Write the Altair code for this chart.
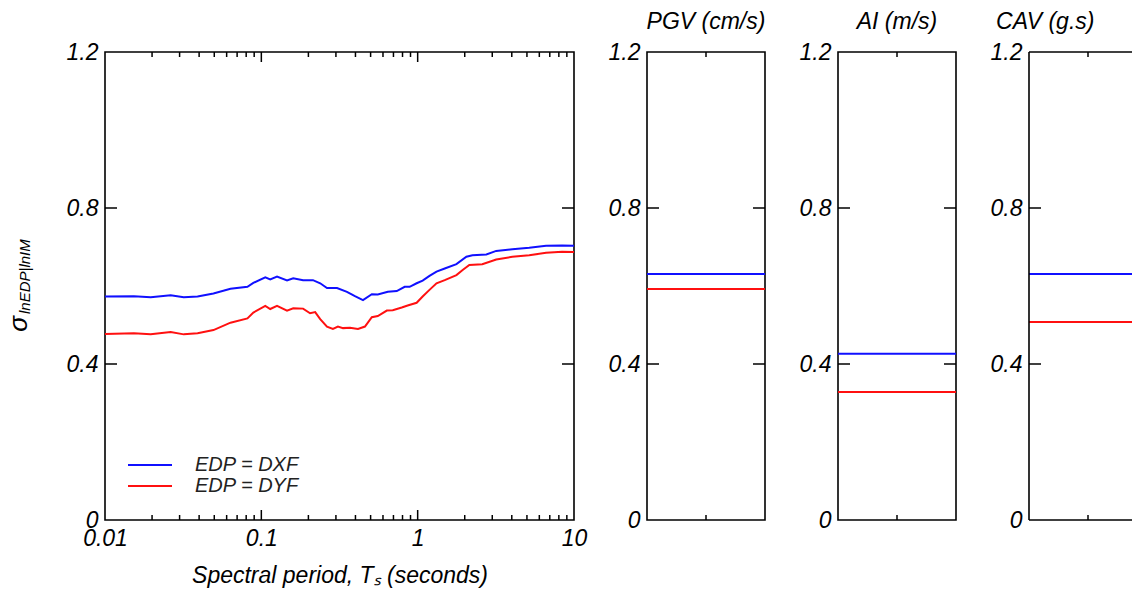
import altair as alt
import pandas as pd

# ---- data ----
series_names = ["EDP = DXF", "EDP = DYF"]
series_colors = ["#1010FF", "#FF1010"]

periods_dxf = [0.01, 0.0153, 0.0196, 0.0263, 0.0319, 0.0391, 0.0494, 0.0635, 0.0815, 0.0889,
               0.106, 0.114, 0.126, 0.146, 0.160, 0.185, 0.214, 0.238, 0.263, 0.305,
               0.353, 0.397, 0.447, 0.509, 0.556, 0.644, 0.735, 0.826, 0.889, 0.985,
               1.076, 1.19, 1.32, 1.49, 1.77, 2.05, 2.24, 2.75, 3.18, 4.03,
               5.17, 6.63, 8.39, 10.0]
sigma_dxf = [0.573, 0.574, 0.571, 0.576, 0.571, 0.573, 0.581, 0.593, 0.598, 0.608,
             0.622, 0.617, 0.624, 0.614, 0.620, 0.615, 0.615, 0.607, 0.595, 0.595,
             0.585, 0.574, 0.564, 0.579, 0.578, 0.585, 0.587, 0.598, 0.598, 0.607,
             0.614, 0.626, 0.637, 0.645, 0.656, 0.675, 0.679, 0.681, 0.690, 0.694,
             0.698, 0.703, 0.704, 0.703]

periods_dyf = [0.01, 0.0153, 0.0196, 0.0263, 0.0319, 0.0391, 0.0494, 0.0635, 0.0815, 0.0889,
               0.106, 0.114, 0.126, 0.146, 0.160, 0.185, 0.205, 0.221, 0.238, 0.263,
               0.287, 0.309, 0.333, 0.369, 0.415, 0.460, 0.509, 0.556, 0.635, 0.693,
               0.791, 0.863, 0.985, 1.076, 1.19, 1.32, 1.49, 1.77, 1.94, 2.14,
               2.59, 3.18, 4.03, 5.17, 6.63, 8.39, 10.0]
sigma_dyf = [0.477, 0.479, 0.476, 0.482, 0.476, 0.479, 0.487, 0.506, 0.517, 0.532,
             0.549, 0.541, 0.549, 0.537, 0.543, 0.542, 0.530, 0.533, 0.515, 0.496,
             0.490, 0.496, 0.492, 0.493, 0.490, 0.496, 0.520, 0.523, 0.537, 0.538,
             0.545, 0.550, 0.557, 0.573, 0.590, 0.607, 0.615, 0.628, 0.641, 0.654,
             0.656, 0.668, 0.675, 0.679, 0.685, 0.688, 0.687]

im_titles = ["PGV (cm/s)", "AI (m/s)", "CAV (g.s)"]
im_dxf = [0.631, 0.426, 0.631]
im_dyf = [0.592, 0.328, 0.508]

x_major_ticks = [0.1, 1.0]
x_minor_ticks = [0.02, 0.03, 0.04, 0.05, 0.06, 0.07, 0.08, 0.09,
                 0.2, 0.3, 0.4, 0.5, 0.6, 0.7, 0.8, 0.9,
                 2, 3, 4, 5, 6, 7, 8, 9]
x_tick_labels = [0.01, 0.1, 1, 10]
y_tick_values = [0, 0.4, 0.8, 1.2]
y_inner_ticks = [0.4, 0.8]

# ---- layout constants ----
W_MAIN, H, W_SIDE = 469, 468, 118
W_LAST = 103          # last panel is cut by the page edge in the reference
FONT = "Liberation Sans"
FS = 23

color_scale = alt.Scale(domain=series_names, range=series_colors)
y_scale = alt.Scale(domain=[0, 1.2], nice=False, zero=False)
x_scale = alt.Scale(type="log", domain=[0.01, 10], nice=False)

y_axis = alt.Axis(values=y_tick_values, title=None, labelPadding=7, labelFlush=False,
                  labelExpr="datum.value == 0 ? '0' : format(datum.value, '.1f')")
x_axis = alt.Axis(values=x_tick_labels, title="Spectral period, Tₛ (seconds)",
                  labelExpr="format(datum.value, '~g')", labelPadding=7, labelFlush=False,
                  titlePadding=14, titleFontSize=FS)

df_lines = pd.concat([
    pd.DataFrame({"period": periods_dxf, "sigma": sigma_dxf, "series": series_names[0]}),
    pd.DataFrame({"period": periods_dyf, "sigma": sigma_dyf, "series": series_names[1]}),
])

lines = alt.Chart(df_lines).mark_line(strokeWidth=2, clip=True).encode(
    x=alt.X("period:Q", scale=x_scale, axis=x_axis),
    y=alt.Y("sigma:Q", scale=y_scale, axis=y_axis),
    color=alt.Color("series:N", scale=color_scale, legend=None),
)

df_minor = pd.DataFrame({"period": x_minor_ticks})
df_major = pd.DataFrame({"period": x_major_ticks})
tick_style = dict(color="black", strokeWidth=1.5)

def xticks(df, length):
    bottom = alt.Chart(df).mark_rule(**tick_style).encode(
        x=alt.X("period:Q", scale=x_scale, axis=x_axis),
        y=alt.value(H), y2=alt.value(H - length))
    top = alt.Chart(df).mark_rule(**tick_style).encode(
        x=alt.X("period:Q", scale=x_scale, axis=x_axis),
        y=alt.value(0), y2=alt.value(length))
    return bottom + top

def yticks(width, length=12, right=True):
    df = pd.DataFrame({"sigma": y_inner_ticks})
    left = alt.Chart(df).mark_rule(**tick_style).encode(
        y=alt.Y("sigma:Q", scale=y_scale, axis=y_axis),
        x=alt.value(0), x2=alt.value(length))
    if not right:
        return left
    rgt = alt.Chart(df).mark_rule(**tick_style).encode(
        y=alt.Y("sigma:Q", scale=y_scale, axis=y_axis),
        x=alt.value(width - length), x2=alt.value(width))
    return left + rgt

# legend drawn inside the main panel
leg_y0, leg_dy = 413, 21
legend_layers = []
for i, name in enumerate(series_names):
    sub = pd.DataFrame({"series": [name]})
    legend_layers.append(alt.Chart(sub).mark_rule(strokeWidth=2).encode(
        x=alt.value(23), x2=alt.value(67), y=alt.value(leg_y0 + i * leg_dy),
        color=alt.Color("series:N", scale=color_scale, legend=None)))
    legend_layers.append(alt.Chart(sub).mark_text(
        align="left", baseline="middle", font=FONT, fontStyle="italic",
        fontSize=20, color="#222222").encode(
        x=alt.value(90), y=alt.value(leg_y0 + i * leg_dy), text="series:N"))

# y-axis title: sigma with subscript
ytitle_sigma = alt.Chart(pd.DataFrame({"t": ["σ"]})).mark_text(
    angle=270, align="center", baseline="middle", font=FONT, fontStyle="italic",
    fontSize=26, color="black").encode(x=alt.value(-86), y=alt.value(272), text="t:N")
ytitle_sub = alt.Chart(pd.DataFrame({"t": ["lnEDP|lnIM"]})).mark_text(
    angle=270, align="left", baseline="middle", font=FONT, fontStyle="italic",
    fontSize=15, color="black").encode(x=alt.value(-80), y=alt.value(262), text="t:N")

main = alt.layer(
    lines,
    xticks(df_minor, 5), xticks(df_major, 10),
    yticks(W_MAIN),
    *legend_layers,
    ytitle_sigma, ytitle_sub,
).properties(width=W_MAIN, height=H)

side_panels = []
for k, (title, vx, vy) in enumerate(zip(im_titles, im_dxf, im_dyf)):
    last = k == len(im_titles) - 1
    w = W_LAST if last else W_SIDE
    df_im = pd.DataFrame({"sigma": [vx, vy], "series": series_names})
    hl = alt.Chart(df_im).mark_rule(strokeWidth=2).encode(
        y=alt.Y("sigma:Q", scale=y_scale, axis=y_axis),
        color=alt.Color("series:N", scale=color_scale, legend=None))
    mid = pd.DataFrame({"m": [0]})
    mid_b = alt.Chart(mid).mark_rule(**tick_style).encode(
        x=alt.value(W_SIDE / 2), y=alt.value(H), y2=alt.value(H - 5))
    mid_t = alt.Chart(mid).mark_rule(**tick_style).encode(
        x=alt.value(W_SIDE / 2), y=alt.value(0), y2=alt.value(5))
    layers = [hl, mid_b, mid_t, yticks(w, right=not last)]
    tparams = dict(text=title, fontSize=FS, font=FONT, fontStyle="italic",
                   fontWeight="normal", color="black", offset=7)
    if last:
        tparams.update(anchor="start", dx=6)
    else:
        tparams.update(anchor="middle")
    props = dict(width=w, height=H, title=alt.TitleParams(**tparams))
    if last:
        border = dict(color="black", strokeWidth=1.6)
        layers += [
            alt.Chart(mid).mark_rule(**border).encode(x=alt.value(0), y=alt.value(0), y2=alt.value(H)),
            alt.Chart(mid).mark_rule(**border).encode(x=alt.value(0), x2=alt.value(w), y=alt.value(0)),
            alt.Chart(mid).mark_rule(**border).encode(x=alt.value(0), x2=alt.value(w), y=alt.value(H)),
        ]
        props["view"] = alt.ViewBackground(stroke="transparent")
    panel = alt.layer(*layers).properties(**props)
    side_panels.append(panel)

chart = alt.hconcat(
    main, alt.hconcat(*side_panels, spacing=31), spacing=19
).properties(
    padding={"left": -3, "top": 2, "right": 0, "bottom": 0}
).configure_view(
    stroke="black", strokeWidth=1.6
).configure_axis(
    domain=False, ticks=False, grid=False,
    labelFont=FONT, labelFontStyle="italic", labelFontSize=FS, labelColor="black",
    titleFont=FONT, titleFontStyle="italic", titleFontWeight="normal", titleColor="black",
)

chart.save("out.html", embed_options={"renderer": "svg", "actions": False})
